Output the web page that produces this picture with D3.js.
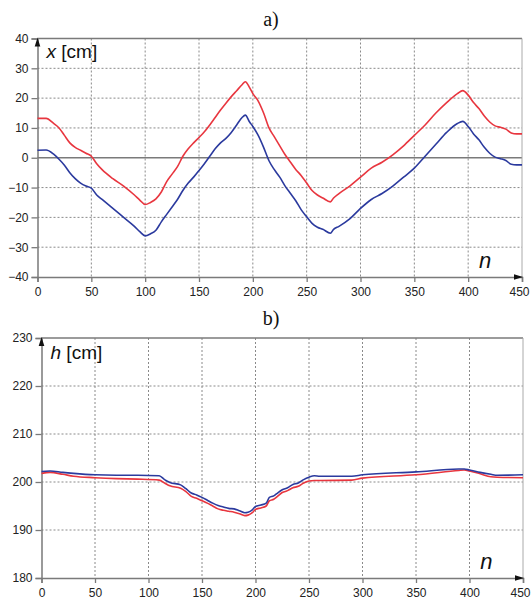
<!DOCTYPE html>
<html>
<head>
<meta charset="utf-8">
<script src="https://cdn.jsdelivr.net/npm/d3@7"></script>
<style>
  html, body { margin: 0; padding: 0; background: #fff; }
  svg { display: block; }
  .tick text { font-family: "Liberation Sans", Arial, sans-serif; font-size: 12px; fill: #222; }
</style>
</head>
<body>
<svg id="chart" width="531" height="605"></svg>
<script>
// ---------- data ----------
const nTop = [0,8,15,20,25,30,35,40,45,50,55,60,70,80,90,95,100,105,110,115,120,125,130,135,140,145,150,155,160,165,170,175,180,185,190,193,197,200,205,210,215,220,225,230,235,240,245,250,255,260,265,272,275,280,290,300,310,320,330,340,350,360,370,380,390,395,400,405,410,415,420,425,430,435,440,445,450];
const xRed = [13.2,13.2,11.5,10,7.5,5,3.5,2.5,1.5,0.5,-2,-4,-7,-9.5,-12.5,-14.2,-15.7,-15,-13.8,-11.5,-8,-5.5,-3,0.5,3,5,6.8,8.7,11,13.5,16,18.3,20.5,22.5,24.5,25.5,23.5,21.5,19,15,10,7,4,1,-1.5,-4,-6,-8.5,-11,-12.5,-13.5,-14.8,-13.5,-12,-9.5,-6.5,-3.5,-1.5,1,4,7.5,11,15,18.5,21.5,22.5,21,18.5,16.5,14,12,10.7,10.2,9.6,8.3,8,8];
const xBlue = [2.5,2.6,1.2,-0.5,-2.5,-5,-7,-8.5,-9.5,-10.2,-12.5,-14,-17,-20,-23,-24.8,-26.2,-25.5,-24.3,-21.5,-19,-16.5,-14,-11,-8.5,-6.5,-4.3,-2,0.5,3,5,6.5,8.5,11,13.5,14.3,12,10.5,7.5,3.5,-1,-4,-6.5,-9.5,-12,-14.5,-17.5,-19.8,-22,-23.3,-24,-25.3,-24,-23,-20.5,-17,-14,-12,-9.5,-6.5,-3.5,0.5,4.5,8.5,11.5,12.2,10.5,8,6,3.5,1.5,0.2,-0.3,-0.9,-2.2,-2.4,-2.4];

const nBot = [0,8,20,30,50,70,90,110,115,120,130,135,140,145,150,155,160,165,170,175,180,185,190,193,197,200,205,210,213,217,220,225,230,235,240,245,250,255,260,290,300,350,390,395,400,410,420,426,450];
const hBlue = [202.2,202.3,202,201.8,201.5,201.4,201.4,201.3,200.5,199.9,199.4,198.6,197.7,197.3,196.8,196.2,195.6,195.1,194.8,194.5,194.4,194,193.6,193.7,194.2,194.9,195.2,195.6,196.8,197.1,197.6,198.4,198.8,199.5,199.8,200.5,201,201.3,201.2,201.2,201.5,202.1,202.7,202.7,202.5,202,201.6,201.4,201.5];
const hRed = [201.8,202,201.6,201.2,200.9,200.7,200.6,200.4,199.8,199.2,198.7,198,197,196.6,196.1,195.6,195,194.4,194.1,193.9,193.7,193.4,193,193.1,193.6,194.3,194.6,195,196.1,196.4,196.9,197.8,198.2,198.8,199.1,199.8,200.2,200.3,200.3,200.4,200.8,201.5,202.4,202.5,202.3,201.7,201.1,201,200.9];

const xTicks = [0,50,100,150,200,250,300,350,400,450];
const yTicksTop = [-40,-30,-20,-10,0,10,20,30,40];
const yTicksBot = [180,190,200,210,220,230];

const RED = "#e8363f";
const BLUE = "#2b3a9e";
const GRID = "#8a8a8a";
const AXIS = "#7a7a7a";

const svg = d3.select("#chart");

function panel(opt) {
  const g = svg.append("g");
  const x = d3.scaleLinear().domain([0, 450]).range([opt.left, opt.right]);
  const y = d3.scaleLinear().domain(opt.ydom).range([opt.bottom, opt.top]);

  // gridlines
  g.append("g").selectAll("line").data(xTicks.slice(1, -1)).join("line")
    .attr("x1", d => x(d)).attr("x2", d => x(d))
    .attr("y1", opt.top).attr("y2", opt.bottom)
    .attr("stroke", GRID).attr("stroke-width", 1).attr("stroke-dasharray", "2,2");
  g.append("g").selectAll("line").data(opt.yticks.slice(1, -1).filter(d => d !== opt.solidY)).join("line")
    .attr("y1", d => y(d)).attr("y2", d => y(d))
    .attr("x1", opt.left).attr("x2", opt.right)
    .attr("stroke", GRID).attr("stroke-width", 1).attr("stroke-dasharray", "2,2");
  if (opt.solidY !== undefined) {
    g.append("line").attr("x1", opt.left).attr("x2", opt.right)
      .attr("y1", y(opt.solidY)).attr("y2", y(opt.solidY))
      .attr("stroke", AXIS).attr("stroke-width", 1.3);
  }
  // top & right border
  g.append("line").attr("x1", opt.left).attr("x2", opt.right).attr("y1", opt.top).attr("y2", opt.top)
    .attr("stroke", AXIS).attr("stroke-width", 1.3);
  g.append("line").attr("x1", opt.right).attr("x2", opt.right).attr("y1", opt.top).attr("y2", opt.bottom)
    .attr("stroke", "#aaa").attr("stroke-width", 1);

  // axes
  const xAxis = d3.axisBottom(x).tickValues(xTicks).tickSize(5).tickPadding(5).tickFormat(d3.format("d"));
  const gx = g.append("g").attr("transform", `translate(0,${opt.bottom})`).call(xAxis);
  gx.select(".domain").attr("stroke", AXIS).attr("stroke-width", 1.5);
  gx.selectAll(".tick line").attr("stroke", AXIS).attr("stroke-width", 1.3);
  gx.selectAll(".tick text").filter(d => d === 450).attr("dx", -3);

  const yAxis = d3.axisLeft(y).tickValues(opt.yticks).tickSize(6).tickPadding(3).tickFormat(d3.format("d"));
  const gy = g.append("g").attr("transform", `translate(${opt.left},0)`).call(yAxis);
  gy.select(".domain").attr("stroke", AXIS).attr("stroke-width", 1.5);
  gy.selectAll(".tick line").attr("stroke", AXIS).attr("stroke-width", 1.3);

  // arrows
  g.append("path")
    .attr("d", `M${opt.left},${opt.top - 1} L${opt.left - 2.8},${opt.top + 8} L${opt.left + 2.8},${opt.top + 8} Z`)
    .attr("fill", "#111");
  g.append("path")
    .attr("d", `M${opt.right + 1},${opt.bottom} L${opt.right - 8},${opt.bottom - 2.8} L${opt.right - 8},${opt.bottom + 2.8} Z`)
    .attr("fill", "#111");

  // lines
  const line = (ys) => d3.line().x((d, i) => x(opt.n[i])).y(d => y(d)).curve(d3.curveMonotoneX)(ys);
  opt.series.forEach(s => {
    g.append("path").attr("d", line(s.v)).attr("fill", "none")
      .attr("stroke", s.c).attr("stroke-width", 1.6).attr("stroke-linejoin", "round");
  });

  // labels
  const lab = g.append("text").attr("x", opt.left + 9).attr("y", opt.top + opt.labDy)
    .attr("font-family", "Liberation Sans, Arial, sans-serif").attr("font-size", 19).attr("fill", "#111");
  lab.append("tspan").attr("font-style", "italic").text(opt.ylab);
  lab.append("tspan").text(" [cm]");
  g.append("text").attr("x", x(410)).attr("y", opt.bottom - 9)
    .attr("font-family", "Liberation Sans, Arial, sans-serif").attr("font-size", 22)
    .attr("font-style", "italic").attr("fill", "#111").text("n");
  g.append("text").attr("x", 271).attr("y", opt.top - 13).attr("text-anchor", "middle")
    .attr("font-family", "Liberation Serif, Times New Roman, serif").attr("font-size", 20)
    .attr("fill", "#111").text(opt.title);
}

panel({
  left: 37.5, right: 522, top: 38.5, bottom: 277, labDy: 19,
  ydom: [-40, 40], yticks: yTicksTop, solidY: 0, n: nTop,
  series: [{ v: xRed, c: RED }, { v: xBlue, c: BLUE }],
  ylab: "x", title: "a)"
});
panel({
  left: 41.5, right: 523, top: 338, bottom: 578, labDy: 21,
  ydom: [180, 230], yticks: yTicksBot, n: nBot,
  series: [{ v: hRed, c: RED }, { v: hBlue, c: BLUE }],
  ylab: "h", title: "b)"
});
</script>
</body>
</html>
